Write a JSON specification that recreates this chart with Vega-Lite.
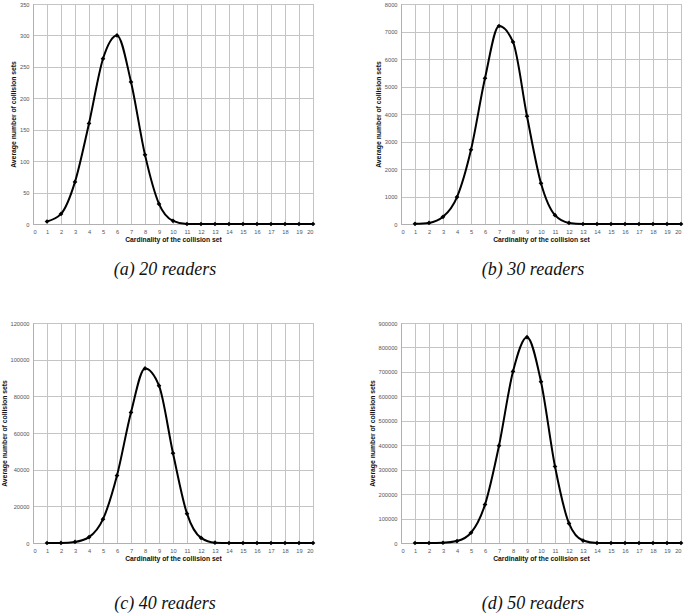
{
  "$schema": "https://vega.github.io/schema/vega-lite/v6.json",
  "padding": {"left": 0, "top": 0, "right": 0, "bottom": 0},
  "background": "white",
  "datasets": {
    "a": [
      {"k": 1, "n": 4}, {"k": 2, "n": 16}, {"k": 3, "n": 67}, {"k": 4, "n": 160}, {"k": 5, "n": 263},
      {"k": 6, "n": 300}, {"k": 7, "n": 226}, {"k": 8, "n": 110}, {"k": 9, "n": 32}, {"k": 10, "n": 5},
      {"k": 11, "n": 0}, {"k": 12, "n": 0}, {"k": 13, "n": 0}, {"k": 14, "n": 0}, {"k": 15, "n": 0},
      {"k": 16, "n": 0}, {"k": 17, "n": 0}, {"k": 18, "n": 0}, {"k": 19, "n": 0}, {"k": 20, "n": 0}
    ],
    "b": [
      {"k": 1, "n": 5}, {"k": 2, "n": 40}, {"k": 3, "n": 260}, {"k": 4, "n": 980}, {"k": 5, "n": 2700},
      {"k": 6, "n": 5300}, {"k": 7, "n": 7200}, {"k": 8, "n": 6620}, {"k": 9, "n": 3920}, {"k": 10, "n": 1480},
      {"k": 11, "n": 320}, {"k": 12, "n": 40}, {"k": 13, "n": 0}, {"k": 14, "n": 0}, {"k": 15, "n": 0},
      {"k": 16, "n": 0}, {"k": 17, "n": 0}, {"k": 18, "n": 0}, {"k": 19, "n": 0}, {"k": 20, "n": 0}
    ],
    "c": [
      {"k": 1, "n": 0}, {"k": 2, "n": 50}, {"k": 3, "n": 600}, {"k": 4, "n": 3200}, {"k": 5, "n": 13000},
      {"k": 6, "n": 36800}, {"k": 7, "n": 71200}, {"k": 8, "n": 95200}, {"k": 9, "n": 85800}, {"k": 10, "n": 49000},
      {"k": 11, "n": 16000}, {"k": 12, "n": 2800}, {"k": 13, "n": 200}, {"k": 14, "n": 0}, {"k": 15, "n": 0},
      {"k": 16, "n": 0}, {"k": 17, "n": 0}, {"k": 18, "n": 0}, {"k": 19, "n": 0}, {"k": 20, "n": 0}
    ],
    "d": [
      {"k": 1, "n": 0}, {"k": 2, "n": 0}, {"k": 3, "n": 1000}, {"k": 4, "n": 8000}, {"k": 5, "n": 42000},
      {"k": 6, "n": 157000}, {"k": 7, "n": 398000}, {"k": 8, "n": 702000}, {"k": 9, "n": 842000}, {"k": 10, "n": 660000},
      {"k": 11, "n": 313000}, {"k": 12, "n": 80000}, {"k": 13, "n": 10000}, {"k": 14, "n": 0}, {"k": 15, "n": 0},
      {"k": 16, "n": 0}, {"k": 17, "n": 0}, {"k": 18, "n": 0}, {"k": 19, "n": 0}, {"k": 20, "n": 0}
    ]
  },
  "columns": 2,
  "spacing": {"column": 50, "row": 40},
  "concat": [
    {
      "width": 280, "height": 220,
      "data": {"name": "a"},
      "title": {"text": "(a)  20 readers", "orient": "bottom", "offset": 17, "dx": -8},
      "encoding": {
        "x": {"field": "k", "type": "quantitative", "scale": {"domain": [0, 20], "nice": false},
              "axis": {"values": [0,1,2,3,4,5,6,7,8,9,10,11,12,13,14,15,16,17,18,19,20], "title": "Cardinality of the collision set"}},
        "y": {"field": "n", "type": "quantitative", "scale": {"domain": [0, 350], "nice": false},
              "axis": {"values": [0,50,100,150,200,250,300,350], "title": "Average number of collision sets"}}
      },
      "layer": [
        {"mark": {"type": "line", "interpolate": "monotone", "color": "black", "strokeWidth": 2}},
        {"mark": {"type": "point", "shape": "diamond", "filled": true, "color": "black", "size": 22, "opacity": 1}}
      ]
    },
    {
      "width": 280, "height": 220,
      "data": {"name": "b"},
      "title": {"text": "(b)  30 readers", "orient": "bottom", "offset": 17, "dx": -8},
      "encoding": {
        "x": {"field": "k", "type": "quantitative", "scale": {"domain": [0, 20], "nice": false},
              "axis": {"values": [0,1,2,3,4,5,6,7,8,9,10,11,12,13,14,15,16,17,18,19,20], "title": "Cardinality of the collision set"}},
        "y": {"field": "n", "type": "quantitative", "scale": {"domain": [0, 8000], "nice": false},
              "axis": {"values": [0,1000,2000,3000,4000,5000,6000,7000,8000], "title": "Average number of collision sets"}}
      },
      "layer": [
        {"mark": {"type": "line", "interpolate": "monotone", "color": "black", "strokeWidth": 2}},
        {"mark": {"type": "point", "shape": "diamond", "filled": true, "color": "black", "size": 22, "opacity": 1}}
      ]
    },
    {
      "width": 280, "height": 220,
      "data": {"name": "c"},
      "title": {"text": "(c)  40 readers", "orient": "bottom", "offset": 32, "dx": -8},
      "encoding": {
        "x": {"field": "k", "type": "quantitative", "scale": {"domain": [0, 20], "nice": false},
              "axis": {"values": [0,1,2,3,4,5,6,7,8,9,10,11,12,13,14,15,16,17,18,19,20], "title": "Cardinality of the collision set"}},
        "y": {"field": "n", "type": "quantitative", "scale": {"domain": [0, 120000], "nice": false},
              "axis": {"values": [0,20000,40000,60000,80000,100000,120000], "title": "Average number of collision sets"}}
      },
      "layer": [
        {"mark": {"type": "line", "interpolate": "monotone", "color": "black", "strokeWidth": 2}},
        {"mark": {"type": "point", "shape": "diamond", "filled": true, "color": "black", "size": 22, "opacity": 1}}
      ]
    },
    {
      "width": 280, "height": 220,
      "data": {"name": "d"},
      "title": {"text": "(d)  50 readers", "orient": "bottom", "offset": 32, "dx": -8},
      "encoding": {
        "x": {"field": "k", "type": "quantitative", "scale": {"domain": [0, 20], "nice": false},
              "axis": {"values": [0,1,2,3,4,5,6,7,8,9,10,11,12,13,14,15,16,17,18,19,20], "title": "Cardinality of the collision set"}},
        "y": {"field": "n", "type": "quantitative", "scale": {"domain": [0, 900000], "nice": false},
              "axis": {"values": [0,100000,200000,300000,400000,500000,600000,700000,800000,900000], "title": "Average number of collision sets"}}
      },
      "layer": [
        {"mark": {"type": "line", "interpolate": "monotone", "color": "black", "strokeWidth": 2}},
        {"mark": {"type": "point", "shape": "diamond", "filled": true, "color": "black", "size": 22, "opacity": 1}}
      ]
    }
  ],
  "config": {
    "view": {"stroke": "#b0b0b0", "strokeWidth": 1},
    "axis": {
      "labelFont": "Liberation Sans", "labelFontSize": 5.7, "labelColor": "#555555",
      "labelPadding": 4, "format": "d",
      "gridColor": "#c4c4c4", "gridWidth": 1,
      "domainColor": "#b0b0b0", "tickSize": 0, "ticks": false,
      "titleFont": "Liberation Sans", "titleFontSize": 6.8, "titleFontWeight": "bold", "titleColor": "#111111",
      "titlePadding": 3
    },
    "title": {"font": "Liberation Serif", "fontStyle": "italic", "fontWeight": "normal", "fontSize": 18, "color": "#111111", "anchor": "middle"}
  }
}
